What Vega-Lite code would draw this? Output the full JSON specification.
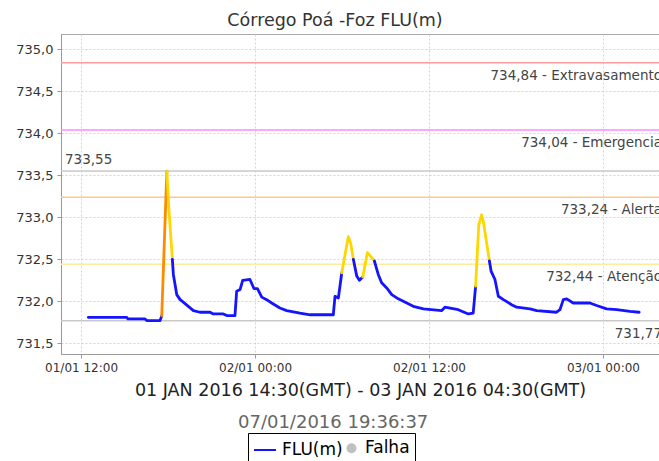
{
  "$schema": "https://vega.github.io/schema/vega-lite/v6.json",
  "width": 598,
  "height": 320,
  "autosize": {"type": "none"},
  "padding": {"left": 61, "top": 34, "right": 0, "bottom": 107},
  "background": "white",
  "title": {"text": "Córrego Poá -Foz FLU(m)", "fontSize": 17.5, "fontWeight": "normal", "color": "#333", "offset": 5, "dx": -25},
  "config": {
    "font": "DejaVu Sans",
    "view": {"stroke": "#aaa", "strokeWidth": 1},
    "axis": {"gridColor": "#d4d4d4", "gridDash": [2, 2], "gridWidth": 1, "domainColor": "#999", "tickColor": "#999", "labelColor": "#333"}
  },
  "datasets": {
    "serie": [
      {"t": "2016-01-01T12:30:00Z", "v": 731.81, "s": 1, "n": "normal"},
      {"t": "2016-01-01T15:09:00Z", "v": 731.81, "s": 1, "n": "normal"},
      {"t": "2016-01-01T15:14:00Z", "v": 731.79, "s": 1, "n": "normal"},
      {"t": "2016-01-01T16:25:00Z", "v": 731.79, "s": 1, "n": "normal"},
      {"t": "2016-01-01T16:33:00Z", "v": 731.77, "s": 1, "n": "normal"},
      {"t": "2016-01-01T17:27:00Z", "v": 731.77, "s": 1, "n": "normal"},
      {"t": "2016-01-01T17:34:00Z", "v": 731.83, "s": 1, "n": "normal"},
      {"t": "2016-01-01T17:34:00Z", "v": 731.83, "s": 2, "n": "alerta"},
      {"t": "2016-01-01T17:55:00Z", "v": 733.55, "s": 2, "n": "alerta"},
      {"t": "2016-01-01T17:55:00Z", "v": 733.55, "s": 3, "n": "atencao"},
      {"t": "2016-01-01T18:05:00Z", "v": 733.03, "s": 3, "n": "atencao"},
      {"t": "2016-01-01T18:18:00Z", "v": 732.50, "s": 3, "n": "atencao"},
      {"t": "2016-01-01T18:18:00Z", "v": 732.50, "s": 4, "n": "normal"},
      {"t": "2016-01-01T18:22:00Z", "v": 732.32, "s": 4, "n": "normal"},
      {"t": "2016-01-01T18:36:00Z", "v": 732.08, "s": 4, "n": "normal"},
      {"t": "2016-01-01T18:50:00Z", "v": 732.02, "s": 4, "n": "normal"},
      {"t": "2016-01-01T19:03:00Z", "v": 731.99, "s": 4, "n": "normal"},
      {"t": "2016-01-01T19:24:00Z", "v": 731.94, "s": 4, "n": "normal"},
      {"t": "2016-01-01T19:45:00Z", "v": 731.89, "s": 4, "n": "normal"},
      {"t": "2016-01-01T20:12:00Z", "v": 731.87, "s": 4, "n": "normal"},
      {"t": "2016-01-01T20:54:00Z", "v": 731.87, "s": 4, "n": "normal"},
      {"t": "2016-01-01T21:07:00Z", "v": 731.85, "s": 4, "n": "normal"},
      {"t": "2016-01-01T21:49:00Z", "v": 731.85, "s": 4, "n": "normal"},
      {"t": "2016-01-01T22:03:00Z", "v": 731.83, "s": 4, "n": "normal"},
      {"t": "2016-01-01T22:37:00Z", "v": 731.83, "s": 4, "n": "normal"},
      {"t": "2016-01-01T22:44:00Z", "v": 732.12, "s": 4, "n": "normal"},
      {"t": "2016-01-01T22:58:00Z", "v": 732.14, "s": 4, "n": "normal"},
      {"t": "2016-01-01T23:09:00Z", "v": 732.25, "s": 4, "n": "normal"},
      {"t": "2016-01-01T23:39:00Z", "v": 732.26, "s": 4, "n": "normal"},
      {"t": "2016-01-01T23:56:00Z", "v": 732.15, "s": 4, "n": "normal"},
      {"t": "2016-01-02T00:10:00Z", "v": 732.15, "s": 4, "n": "normal"},
      {"t": "2016-01-02T00:28:00Z", "v": 732.05, "s": 4, "n": "normal"},
      {"t": "2016-01-02T00:48:00Z", "v": 732.02, "s": 4, "n": "normal"},
      {"t": "2016-01-02T01:09:00Z", "v": 731.98, "s": 4, "n": "normal"},
      {"t": "2016-01-02T01:43:00Z", "v": 731.92, "s": 4, "n": "normal"},
      {"t": "2016-01-02T02:11:00Z", "v": 731.89, "s": 4, "n": "normal"},
      {"t": "2016-01-02T03:06:00Z", "v": 731.86, "s": 4, "n": "normal"},
      {"t": "2016-01-02T03:48:00Z", "v": 731.84, "s": 4, "n": "normal"},
      {"t": "2016-01-02T05:24:00Z", "v": 731.84, "s": 4, "n": "normal"},
      {"t": "2016-01-02T05:31:00Z", "v": 732.06, "s": 4, "n": "normal"},
      {"t": "2016-01-02T05:45:00Z", "v": 732.04, "s": 4, "n": "normal"},
      {"t": "2016-01-02T05:59:00Z", "v": 732.34, "s": 4, "n": "normal"},
      {"t": "2016-01-02T05:59:00Z", "v": 732.34, "s": 5, "n": "atencao"},
      {"t": "2016-01-02T06:26:00Z", "v": 732.77, "s": 5, "n": "atencao"},
      {"t": "2016-01-02T06:36:00Z", "v": 732.69, "s": 5, "n": "atencao"},
      {"t": "2016-01-02T06:47:00Z", "v": 732.50, "s": 5, "n": "atencao"},
      {"t": "2016-01-02T06:47:00Z", "v": 732.50, "s": 6, "n": "normal"},
      {"t": "2016-01-02T07:01:00Z", "v": 732.30, "s": 6, "n": "normal"},
      {"t": "2016-01-02T07:12:00Z", "v": 732.25, "s": 6, "n": "normal"},
      {"t": "2016-01-02T07:26:00Z", "v": 732.29, "s": 6, "n": "normal"},
      {"t": "2016-01-02T07:26:00Z", "v": 732.29, "s": 7, "n": "atencao"},
      {"t": "2016-01-02T07:45:00Z", "v": 732.58, "s": 7, "n": "atencao"},
      {"t": "2016-01-02T08:03:00Z", "v": 732.52, "s": 7, "n": "atencao"},
      {"t": "2016-01-02T08:14:00Z", "v": 732.48, "s": 7, "n": "atencao"},
      {"t": "2016-01-02T08:14:00Z", "v": 732.48, "s": 8, "n": "normal"},
      {"t": "2016-01-02T08:30:00Z", "v": 732.32, "s": 8, "n": "normal"},
      {"t": "2016-01-02T08:44:00Z", "v": 732.22, "s": 8, "n": "normal"},
      {"t": "2016-01-02T09:05:00Z", "v": 732.16, "s": 8, "n": "normal"},
      {"t": "2016-01-02T09:26:00Z", "v": 732.08, "s": 8, "n": "normal"},
      {"t": "2016-01-02T09:53:00Z", "v": 732.03, "s": 8, "n": "normal"},
      {"t": "2016-01-02T10:28:00Z", "v": 731.98, "s": 8, "n": "normal"},
      {"t": "2016-01-02T10:55:00Z", "v": 731.94, "s": 8, "n": "normal"},
      {"t": "2016-01-02T11:37:00Z", "v": 731.91, "s": 8, "n": "normal"},
      {"t": "2016-01-02T12:53:00Z", "v": 731.89, "s": 8, "n": "normal"},
      {"t": "2016-01-02T13:06:00Z", "v": 731.93, "s": 8, "n": "normal"},
      {"t": "2016-01-02T14:01:00Z", "v": 731.90, "s": 8, "n": "normal"},
      {"t": "2016-01-02T14:43:00Z", "v": 731.85, "s": 8, "n": "normal"},
      {"t": "2016-01-02T15:03:00Z", "v": 731.86, "s": 8, "n": "normal"},
      {"t": "2016-01-02T15:13:00Z", "v": 732.18, "s": 8, "n": "normal"},
      {"t": "2016-01-02T15:13:00Z", "v": 732.18, "s": 9, "n": "atencao"},
      {"t": "2016-01-02T15:26:00Z", "v": 732.91, "s": 9, "n": "atencao"},
      {"t": "2016-01-02T15:38:00Z", "v": 733.03, "s": 9, "n": "atencao"},
      {"t": "2016-01-02T15:45:00Z", "v": 732.95, "s": 9, "n": "atencao"},
      {"t": "2016-01-02T16:10:00Z", "v": 732.48, "s": 9, "n": "atencao"},
      {"t": "2016-01-02T16:10:00Z", "v": 732.48, "s": 10, "n": "normal"},
      {"t": "2016-01-02T16:17:00Z", "v": 732.36, "s": 10, "n": "normal"},
      {"t": "2016-01-02T16:33:00Z", "v": 732.26, "s": 10, "n": "normal"},
      {"t": "2016-01-02T16:47:00Z", "v": 732.06, "s": 10, "n": "normal"},
      {"t": "2016-01-02T17:08:00Z", "v": 732.02, "s": 10, "n": "normal"},
      {"t": "2016-01-02T17:42:00Z", "v": 731.96, "s": 10, "n": "normal"},
      {"t": "2016-01-02T18:03:00Z", "v": 731.93, "s": 10, "n": "normal"},
      {"t": "2016-01-02T18:58:00Z", "v": 731.91, "s": 10, "n": "normal"},
      {"t": "2016-01-02T19:26:00Z", "v": 731.89, "s": 10, "n": "normal"},
      {"t": "2016-01-02T20:48:00Z", "v": 731.87, "s": 10, "n": "normal"},
      {"t": "2016-01-02T21:02:00Z", "v": 731.90, "s": 10, "n": "normal"},
      {"t": "2016-01-02T21:16:00Z", "v": 732.02, "s": 10, "n": "normal"},
      {"t": "2016-01-02T21:30:00Z", "v": 732.03, "s": 10, "n": "normal"},
      {"t": "2016-01-02T21:57:00Z", "v": 731.98, "s": 10, "n": "normal"},
      {"t": "2016-01-02T23:06:00Z", "v": 731.98, "s": 10, "n": "normal"},
      {"t": "2016-01-02T23:34:00Z", "v": 731.95, "s": 10, "n": "normal"},
      {"t": "2016-01-03T00:15:00Z", "v": 731.91, "s": 10, "n": "normal"},
      {"t": "2016-01-03T00:57:00Z", "v": 731.90, "s": 10, "n": "normal"},
      {"t": "2016-01-03T01:52:00Z", "v": 731.88, "s": 10, "n": "normal"},
      {"t": "2016-01-03T02:30:00Z", "v": 731.87, "s": 10, "n": "normal"}
    ],
    "limites": [
      {"v": 734.84, "rotulo": "734,84 - Extravasamento", "n": "ext", "lado": "dir"},
      {"v": 734.04, "rotulo": "734,04 - Emergencia", "n": "emg", "lado": "dir"},
      {"v": 733.55, "rotulo": "733,55", "n": "max", "lado": "esq"},
      {"v": 733.24, "rotulo": "733,24 - Alerta", "n": "ale", "lado": "dir"},
      {"v": 732.44, "rotulo": "732,44 - Atenção", "n": "ate", "lado": "dir"},
      {"v": 731.77, "rotulo": "731,77", "n": "min", "lado": "dir"}
    ],
    "legenda": [
      {"serie": "FLU(m)", "ts": "07/01/2016 19:36:37"},
      {"serie": "Falha", "ts": "07/01/2016 19:36:37"}
    ]
  },
  "layer": [
    {
      "data": {"name": "limites"},
      "mark": {"type": "rule", "strokeWidth": 1.5},
      "encoding": {
        "y": {"field": "v", "type": "quantitative", "scale": {"domain": [731.373, 735.182], "nice": false, "zero": false},
          "axis": {"title": null, "values": [731.5, 732, 732.5, 733, 733.5, 734, 734.5, 735], "labelExpr": "replace(format(datum.value, '.1f'), '.', ',')", "labelFontSize": 13, "tickSize": 4, "labelPadding": 4, "grid": true}},
        "color": {"field": "n", "type": "nominal", "legend": null,
          "scale": {"domain": ["normal", "atencao", "alerta", "ext", "emg", "max", "ale", "ate", "min"],
                    "range": ["#1414ff", "#ffd700", "#ff8a00", "#ff9c9c", "#ff88ff", "#c8c8c8", "#ffc890", "#ffec9c", "#c8c8c8"]}}
      }
    },
    {
      "data": {"name": "serie"},
      "mark": {"type": "line", "strokeWidth": 2.8, "strokeJoin": "round", "strokeCap": "round"},
      "encoding": {
        "x": {"field": "t", "type": "temporal",
          "scale": {"type": "utc", "domain": [1451644620000, 1451793120000], "nice": false},
          "axis": {"title": "01 JAN 2016 14:30(GMT) - 03 JAN 2016 04:30(GMT)", "titleFontSize": 17.5, "titleFontWeight": "normal", "titleColor": "#222", "titlePadding": 8,
                   "format": "%d/%m %H:%M", "values": [1451649600000, 1451692800000, 1451736000000, 1451779200000],
                   "labelFontSize": 12, "tickSize": 4, "labelPadding": 4, "labelFlush": false, "labelOverlap": false, "grid": true}},
        "y": {"field": "v", "type": "quantitative"},
        "detail": {"field": "s", "type": "nominal"},
        "color": {"field": "n", "type": "nominal", "legend": null}
      }
    },
    {
      "data": {"name": "limites"},
      "transform": [{"filter": "datum.lado == 'dir'"}],
      "mark": {"type": "text", "align": "right", "baseline": "alphabetic", "dx": 3, "dy": 17, "fontSize": 13.5, "color": "#444"},
      "encoding": {
        "x": {"value": "width"},
        "y": {"field": "v", "type": "quantitative"},
        "text": {"field": "rotulo"}
      }
    },
    {
      "data": {"name": "limites"},
      "transform": [{"filter": "datum.lado == 'esq'"}],
      "mark": {"type": "text", "align": "left", "baseline": "alphabetic", "dx": 4, "dy": -7, "fontSize": 13.5, "color": "#444"},
      "encoding": {
        "x": {"value": 0},
        "y": {"field": "v", "type": "quantitative"},
        "text": {"field": "rotulo"}
      }
    },
    {
      "data": {"name": "legenda"},
      "mark": {"type": "point", "filled": true, "opacity": 1},
      "encoding": {
        "opacity": {"field": "ts", "type": "nominal", "scale": {"range": [0, 0]},
          "legend": {"orient": "none", "legendX": 177, "legendY": 380, "direction": "horizontal", "title": "07/01/2016 19:36:37", "titleLimit": 400, "titleFontSize": 18, "titleFontWeight": "normal", "titleColor": "#666", "padding": 0, "labelOpacity": 0, "symbolOpacity": 0}},
        "shape": {"field": "serie", "type": "nominal", "scale": {"domain": ["FLU(m)", "Falha"], "range": ["stroke", "circle"]},
          "legend": {"orient": "none", "legendX": 187, "legendY": 399, "direction": "horizontal", "title": null, "strokeColor": "#000", "padding": 5,
                     "labelFontSize": 17, "labelColor": "#000", "labelOffset": 5, "columnPadding": -7, "symbolStrokeWidth": 2, "symbolOpacity": 1}},
        "fill": {"field": "serie", "type": "nominal", "scale": {"domain": ["FLU(m)", "Falha"], "range": ["#1414ff", "#c0c0c0"]}},
        "stroke": {"field": "serie", "type": "nominal", "scale": {"domain": ["FLU(m)", "Falha"], "range": ["#1414ff", "#c0c0c0"]}},
        "size": {"field": "serie", "type": "nominal", "scale": {"domain": ["FLU(m)", "Falha"], "range": [484, 64]}}
      }
    }
  ]
}
